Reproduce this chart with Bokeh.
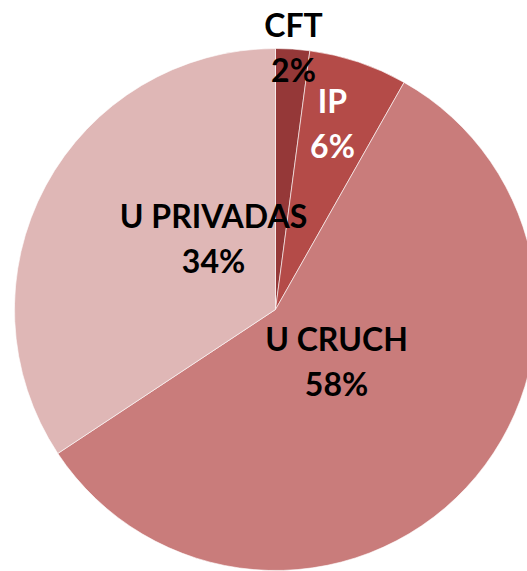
import math
from bokeh.plotting import figure
from bokeh.models import Range1d, ColumnDataSource
from bokeh.core.properties import value
from bokeh.embed import file_html
from bokeh.resources import INLINE

categories = ["CFT", "IP", "U CRUCH", "U PRIVADAS"]
shares = [2.1, 6.1, 57.5, 34.3]
colors = ["#953838", "#B44B48", "#C97C7B", "#DFB7B6"]
text_colors = ["#000000", "#FFFFFF", "#000000", "#000000"]

# label anchor (x, centre of first line) in page pixels
label_x = [293, 332, 336, 213]
label_y = [24, 100, 338, 215]
line_gap = 45

W, H = 527, 571
cx, cy, r = 275, -309, 261

p = figure(width=W, height=H, output_backend="svg", toolbar_location=None,
           x_range=Range1d(0, W), y_range=Range1d(-H, 0),
           min_border=0, outline_line_color=None)
p.axis.visible = False
p.grid.visible = False
p.background_fill_color = "white"
p.border_fill_color = "white"

total = sum(shares)
starts, ends = [], []
cum = 0.0
for s in shares:
    a0 = math.pi / 2 - 2 * math.pi * cum / total
    cum += s
    a1 = math.pi / 2 - 2 * math.pi * cum / total
    starts.append(a0)
    ends.append(a1)

src = ColumnDataSource(dict(start=starts, end=ends, color=colors))
p.wedge(x=cx, y=cy, radius=r, start_angle="start", end_angle="end",
        direction="clock", fill_color="color", line_color="white",
        line_width=0.6, source=src)

pct = [f"{round(s)}%" for s in shares]
lsrc = ColumnDataSource(dict(
    x=label_x + label_x,
    y=[-v for v in label_y] + [-(v + line_gap) for v in label_y],
    t=categories + pct,
    c=text_colors + text_colors,
))
p.text(x="x", y="y", text="t", text_color="c", source=lsrc,
       text_font=value("Lato"), text_font_style="bold",
       text_font_size="32px", text_align="center", text_baseline="middle")

open("out.html", "w").write(file_html(p, INLINE))
